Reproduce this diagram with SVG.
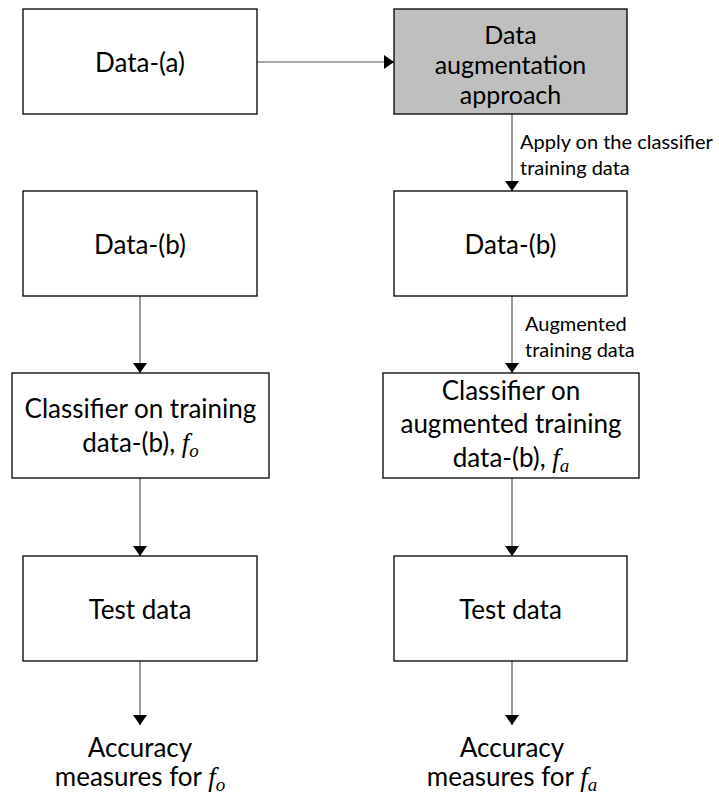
<svg xmlns="http://www.w3.org/2000/svg" width="719" height="798" viewBox="0 0 719 798">
<style>
.box{fill:#fff;stroke:#000;stroke-width:1.3}
.gray{fill:#bfbfbf;stroke:#000;stroke-width:1.3}
.t{font-family:Lato,"Liberation Sans",sans-serif;font-size:26px;fill:#000;text-anchor:middle}
.tg{font-size:25px}
.lbl{font-family:Lato,"Liberation Sans",sans-serif;font-size:20px;fill:#000}
.m{font-family:"Liberation Serif","DejaVu Serif",serif;font-style:italic;font-size:27px}
.sub{font-family:"Liberation Serif","DejaVu Serif",serif;font-style:italic;font-size:19px}
.c{stroke:#555;stroke-width:1.2;fill:none;marker-end:url(#ah)}
</style>
<defs>
<marker id="ah" markerUnits="userSpaceOnUse" markerWidth="10" markerHeight="14" refX="10" refY="7" orient="auto">
<path d="M0,0 L10,7 L0,14 z" fill="#000"/>
</marker>
</defs>
<rect width="719" height="798" fill="#fff"/>
<g id="connectors">
<line class="c" x1="257" y1="62" x2="394" y2="62"/>
<line class="c" x1="512" y1="114" x2="512" y2="191"/>
<line class="c" x1="140" y1="296" x2="140" y2="373"/>
<line class="c" x1="512" y1="296" x2="512" y2="373"/>
<line class="c" x1="140" y1="478" x2="140" y2="556"/>
<line class="c" x1="512" y1="478" x2="512" y2="556"/>
<line class="c" x1="140" y1="661" x2="140" y2="725"/>
<line class="c" x1="512" y1="661" x2="512" y2="725"/>
<text class="lbl" x="520" y="149">Apply on the classifier</text>
<text class="lbl" x="520" y="175">training data</text>
<text class="lbl" x="525" y="331">Augmented</text>
<text class="lbl" x="525" y="357">training data</text>
</g>
<g id="data-a">
<rect class="box" x="23" y="9" width="234" height="105"/>
<text class="t" x="140" y="72">Data-(a)</text>
</g>
<g id="augmentation">
<rect class="gray" x="394" y="9" width="233" height="105"/>
<text class="t tg" x="510.5" y="44">Data</text>
<text class="t tg" x="510.5" y="74">augmentation</text>
<text class="t tg" x="510.5" y="104">approach</text>
</g>
<g id="data-b-left">
<rect class="box" x="23" y="191" width="234" height="105"/>
<text class="t" x="140" y="254">Data-(b)</text>
</g>
<g id="data-b-right">
<rect class="box" x="394" y="191" width="233" height="105"/>
<text class="t" x="510.5" y="254">Data-(b)</text>
</g>
<g id="classifier-left">
<rect class="box" x="12" y="373" width="257" height="105"/>
<text class="t" x="140.5" y="418">Classifier on training</text>
<text class="t" x="140.5" y="452">data-(b), <tspan class="m">f</tspan><tspan class="sub" dy="5">o</tspan></text>
</g>
<g id="classifier-right">
<rect class="box" x="383" y="373" width="256" height="105"/>
<text class="t" x="511" y="400">Classifier on</text>
<text class="t" x="511" y="433">augmented training</text>
<text class="t" x="511" y="467">data-(b), <tspan class="m">f</tspan><tspan class="sub" dy="5">a</tspan></text>
</g>
<g id="test-left">
<rect class="box" x="23" y="556" width="234" height="105"/>
<text class="t" x="140" y="619">Test data</text>
</g>
<g id="test-right">
<rect class="box" x="394" y="556" width="233" height="105"/>
<text class="t" x="510.5" y="619">Test data</text>
</g>
<g id="accuracy-left">
<text class="t" x="140" y="757">Accuracy</text>
<text class="t" x="140" y="786">measures for <tspan class="m">f</tspan><tspan class="sub" dy="5">o</tspan></text>
</g>
<g id="accuracy-right">
<text class="t" x="512" y="757">Accuracy</text>
<text class="t" x="512" y="786">measures for <tspan class="m">f</tspan><tspan class="sub" dy="5">a</tspan></text>
</g>
</svg>
